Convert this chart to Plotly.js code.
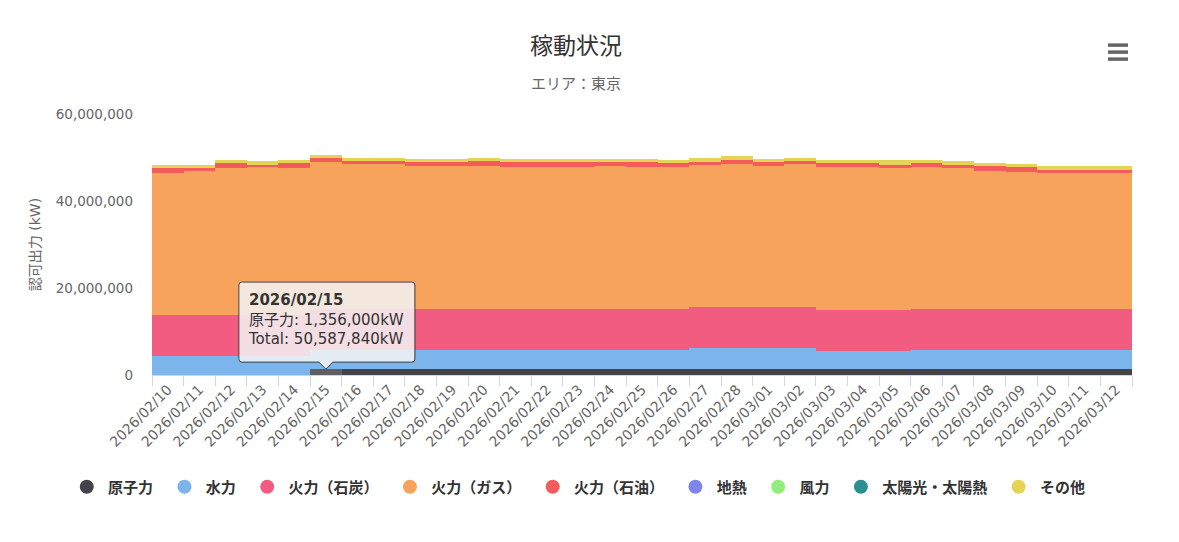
<!DOCTYPE html>
<html>
<head>
<meta charset="utf-8">
<script src="https://cdn.plot.ly/plotly-3.0.1.min.js"></script>
<style>
    html, body { margin:0; padding:0; background:#fff; }
    #chart { width:1179px; height:542px; }
</style>
</head>
<body>
<div id="chart"></div>
<script>
'use strict';

// categories
let dates = [
    '2026/02/10','2026/02/11','2026/02/12','2026/02/13','2026/02/14','2026/02/15','2026/02/16',
    '2026/02/17','2026/02/18','2026/02/19','2026/02/20','2026/02/21','2026/02/22','2026/02/23',
    '2026/02/24','2026/02/25','2026/02/26','2026/02/27','2026/02/28','2026/03/01','2026/03/02',
    '2026/03/03','2026/03/04','2026/03/05','2026/03/06','2026/03/07','2026/03/08','2026/03/09',
    '2026/03/10','2026/03/11','2026/03/12'
];

// series values (kW)
let nuclear = [
    0,0,0,0,0,1356000,1356000,
    1356000,1356000,1356000,1356000,1356000,1356000,1356000,
    1356000,1356000,1356000,1356000,1356000,1356000,1356000,
    1356000,1356000,1356000,1356000,1356000,1356000,1356000,
    1356000,1356000,1356000
];
let hydro = [
    4480000,4480000,4480000,4480000,4480000,4500000,4500000,
    4500000,4500000,4500000,4500000,4500000,4500000,4500000,
    4500000,4500000,4500000,4890000,4890000,4890000,4890000,
    4270000,4270000,4270000,4500000,4500000,4500000,4500000,
    4500000,4500000,4500000
];
let coal = [
    9420000,9420000,9420000,9420000,9420000,9420000,9420000,
    9420000,9420000,9420000,9420000,9420000,9420000,9420000,
    9420000,9420000,9420000,9420000,9420000,9420000,9420000,
    9420000,9420000,9420000,9420000,9420000,9420000,9420000,
    9420000,9420000,9420000
];
let gas = [
    32530000,32920000,33680000,33910000,33680000,33680000,33150000,
    33150000,32850000,32850000,32850000,32620000,32620000,32620000,
    32850000,32620000,32620000,32530000,32760000,32460000,32760000,
    32760000,32760000,32460000,32530000,32230000,31700000,31380000,
    31150000,31150000,31150000
];
let oil = [
    1150000,760000,1150000,550000,1080000,920000,760000,
    760000,830000,830000,1060000,990000,990000,990000,
    830000,990000,760000,750000,990000,760000,690000,
    850000,850000,850000,850000,760000,1060000,1080000,
    780000,780000,780000
];
let geothermal = dates.map(() => 0);
let wind = dates.map(() => 0);
let solar = dates.map(() => 0);
let other = [
    770000,700000,700000,750000,770000,711840,770000,
    770000,770000,770000,770000,770000,770000,770000,
    700000,770000,770000,1000000,930000,770000,840000,
    770000,770000,1000000,770000,840000,770000,770000,
    910000,910000,910000
];

let seriesNames = ['原子力','水力','火力（石炭）','火力（ガス）','火力（石油）','地熱','風力','太陽光・太陽熱','その他'];
let seriesData = [nuclear, hydro, coal, gas, oil, geothermal, wind, solar, other];
let seriesColors = ['#434348','#7cb5ec','#f15c80','#f7a35c','#f45b5b','#8085e9','#90ed7d','#2b908f','#e4d354'];

let hoverIndex = 5; // tooltip shown on 2026/02/15, 原子力
let font = "'DejaVu Sans', 'Noto Sans CJK JP', sans-serif";

let traces = [];
seriesData.forEach((vals, i) => {
    let color = seriesColors[i];
    if (i === 0) {
        // hovered point is drawn brighter
        color = dates.map((d, k) => k === hoverIndex ? '#5e5e63' : seriesColors[0]);
    }
    traces.push({
        type: 'bar',
        name: seriesNames[i],
        x: dates,
        y: vals,
        marker: {color: color, line: {width: 0}},
        showlegend: false,
        hoverinfo: 'skip'
    });
});
// legend with round symbols (nbsp widens the gap to the next item)
seriesNames.forEach((n, i) => {
    traces.push({
        type: 'scatter',
        mode: 'markers',
        name: n + '\u00a0',
        x: [null],
        y: [null],
        marker: {color: seriesColors[i], size: 14, symbol: 'circle'},
        showlegend: true,
        hoverinfo: 'skip'
    });
});

let total = seriesData.reduce((s, vals) => s + vals[hoverIndex], 0);
let fmt = v => v.toLocaleString('en-US');

let tipText = '<b>' + dates[hoverIndex] + '</b><br>' +
    seriesNames[0] + ': ' + fmt(nuclear[hoverIndex]) + 'kW<br>' +
    'Total: ' + fmt(total) + 'kW';

// tooltip box with pointer, in pixels around the hovered point
let tipPath = 'M -84,87 H 86 Q 89,87 89,84 V 10 Q 89,7 86,7 H 7 L 0,0 L -7,7 H -84 Q -87,7 -87,10 V 84 Q -87,87 -84,87 Z';
let tipShadow = 'M -83,86 H 87 Q 90,86 90,83 V 9 Q 90,6 87,6 H 8 L 1,-1 L -6,6 H -83 Q -86,6 -86,9 V 83 Q -86,86 -83,86 Z';

let shapes = [
    {type:'path', layer:'above', xref:'x', yref:'y', xsizemode:'pixel', ysizemode:'pixel',
        xanchor: dates[hoverIndex], yanchor: nuclear[hoverIndex], path: tipShadow,
        fillcolor:'rgba(0,0,0,0.08)', line:{width:0}},
    {type:'path', layer:'above', xref:'x', yref:'y', xsizemode:'pixel', ysizemode:'pixel',
        xanchor: dates[hoverIndex], yanchor: nuclear[hoverIndex], path: tipPath,
        fillcolor:'rgba(247,247,247,0.85)', line:{color:'#434348', width:1}}
];
// menu button
[1.2639, 1.2371, 1.2103].forEach(yy => {
    shapes.push({type:'line', xref:'paper', yref:'paper', x0:0.9755, x1:0.9959, y0:yy, y1:yy,
        line:{color:'#666666', width:3.5}});
});

let layout = {
    width: 1179,
    height: 542,
    margin: {l:152, r:47, t:114, b:167, pad:0},
    paper_bgcolor: '#ffffff',
    plot_bgcolor: '#ffffff',
    font: {family: font, color: '#333333'},
    barmode: 'stack',
    bargap: 0,
    hovermode: false,
    title: {
        text: '稼動状況',
        font: {size: 23, color: '#333333'},
        xref: 'container', x: 576 / 1179, xanchor: 'center',
        yref: 'container', y: 1 - 46 / 542, yanchor: 'middle'
    },
    xaxis: {
        type: 'category',
        tickson: 'boundaries',
        ticks: 'outside',
        ticklen: 10,
        tickwidth: 1,
        tickcolor: '#ccd6eb',
        showline: true,
        linecolor: '#ccd6eb',
        linewidth: 1,
        showgrid: false,
        tickangle: -45,
        tickfont: {size: 14, color: '#666666'},
        automargin: false,
        fixedrange: true
    },
    yaxis: {
        range: [0, 60000000],
        tick0: 0,
        dtick: 20000000,
        tickformat: ',d',
        gridcolor: '#e6e6e6',
        gridwidth: 1,
        zeroline: false,
        showline: false,
        ticks: '',
        ticklabelstandoff: 18,
        tickfont: {size: 13.5, color: '#666666'},
        title: {text: '認可出力 (kW)', font: {size: 14, color: '#666666'}, standoff: 11},
        automargin: false,
        fixedrange: true
    },
    legend: {
        // left of the plot area and below it, so the row may be wider than the plot
        orientation: 'h',
        xref: 'paper', x: (65.5 - 152) / 980, xanchor: 'left',
        yref: 'paper', y: (375 - 487) / 261, yanchor: 'middle',
        traceorder: 'normal',
        itemwidth: 32.5,
        font: {size: 15, color: '#333333', weight: 'bold'},
        bgcolor: 'rgba(0,0,0,0)'
    },
    shapes: shapes,
    annotations: [
        {
            xref: 'paper', yref: 'paper',
            x: (576 - 152) / 980, y: (375 - 84) / 261,
            xanchor: 'center', yanchor: 'middle',
            text: 'エリア：東京', showarrow: false,
            font: {size: 15, color: '#666666'}
        },
        {
            xref: 'x', yref: 'y',
            x: dates[hoverIndex], y: nuclear[hoverIndex],
            xanchor: 'left', yanchor: 'top',
            xshift: -80, yshift: 80,
            align: 'left', showarrow: false,
            text: tipText,
            font: {size: 15, color: '#333333'}
        }
    ]
};

Plotly.newPlot('chart', traces, layout, {displayModeBar: false, staticPlot: true});
</script>
</body>
</html>
